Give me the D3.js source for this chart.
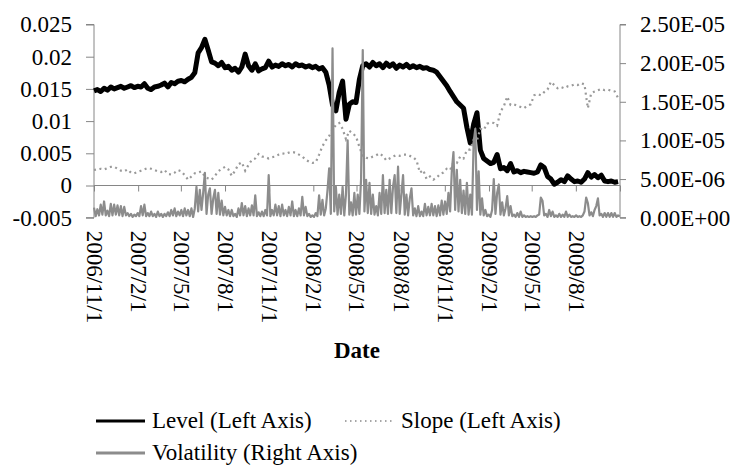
<!DOCTYPE html>
<html>
<head>
<meta charset="utf-8">
<script src="https://cdn.jsdelivr.net/npm/d3@7"></script>
<style>
  html, body { margin: 0; padding: 0; background: #fff; }
  svg { display: block; }
  text { font-family: "Liberation Serif", "Times New Roman", serif; fill: #000; }
</style>
</head>
<body>
<svg id="chart" width="734" height="467"></svg>
<script>
// Level and slope: weekly observations starting 2006-11-01 (values in units of 1e-3)
const levelVals = [
  14.7,14.9,14.6,15.1,14.8,15.3,15.0,15.2,15.4,15.1,15.3,15.5,15.2,15.4,15.3,15.8,15.1,14.9,15.3,15.4,
  15.6,15.9,15.3,16.0,15.8,16.2,16.3,16.1,16.5,16.8,17.5,20.6,21.4,22.7,21.0,19.2,19.0,18.6,19.1,18.3,
  18.5,17.9,18.2,17.6,18.4,20.4,18.6,17.9,18.9,17.8,18.1,18.3,19.3,18.4,18.7,18.5,18.9,18.6,18.8,18.4,
  18.9,18.6,18.7,18.4,18.6,18.3,18.5,18.1,18.3,17.6,15.6,12.5,11.6,14.5,16.2,10.3,12.6,13.0,12.9,16.5,
  18.6,18.9,18.4,19.1,18.6,18.9,18.3,19.0,18.5,18.9,18.2,18.7,18.4,18.8,18.3,18.6,18.3,18.5,18.2,18.3,
  18.0,17.9,17.6,16.9,16.2,15.5,14.6,13.8,13.0,12.5,12.0,9.0,6.6,9.5,11.3,5.5,4.2,3.8,3.4,3.6,
  4.8,2.6,2.8,2.3,3.4,2.1,2.3,2.0,2.2,2.1,2.0,1.9,2.1,3.2,2.8,1.4,1.0,0.2,0.5,0.9,
  0.6,1.5,1.0,0.6,0.7,0.5,1.0,2.0,1.3,1.7,1.2,1.6,0.7,0.6,0.7,0.5,0.6
];
const slopeVals = [
  2.4,2.5,2.6,2.5,2.7,2.9,2.9,2.6,2.3,2.2,2.5,2.0,1.9,2.1,2.3,2.5,2.7,2.6,2.4,2.2,
  2.1,2.4,1.8,1.7,2.0,2.4,2.2,1.6,0.9,1.4,1.9,2.0,2.2,1.4,1.1,0.9,1.5,2.2,2.6,2.9,
  2.5,1.5,2.3,3.3,3.6,2.3,3.2,4.0,4.2,4.9,4.5,4.4,4.2,4.4,4.5,4.8,5.0,4.9,5.1,5.2,
  5.1,4.8,4.5,4.0,3.7,3.5,3.6,4.8,6.1,7.0,7.7,8.6,9.4,9.7,8.8,7.2,8.5,8.1,7.6,6.0,
  4.6,4.3,4.2,4.5,4.7,5.0,4.6,3.9,4.2,4.5,4.7,4.6,4.8,4.8,4.6,4.4,3.9,2.0,2.4,1.0,
  1.4,0.9,1.2,1.8,2.0,2.6,2.4,3.6,3.5,4.5,4.2,5.5,5.6,7.1,7.0,8.8,8.6,9.6,9.8,9.7,
  9.3,11.5,12.3,13.8,12.5,12.6,12.4,12.2,12.0,12.4,12.6,14.0,14.2,14.0,14.5,14.9,16.1,15.6,15.1,15.3,
  15.1,15.4,15.5,15.7,15.6,15.9,15.7,12.0,14.3,14.6,14.8,15.0,14.8,14.9,14.7,14.6,13.6
];
// Volatility: twice-weekly observations starting 2006-11-01 (values in units of 1e-6)
const volVals = [
  1.3,0.2,1.1,0.3,1.7,0.4,2.1,0.3,0.9,0.2,1.8,0.3,1.7,0.4,1.6,0.3,1.5,0.2,1.4,0.3,
  0.6,0.2,0.5,0.1,0.4,0.2,0.6,0.2,1.5,0.3,1.7,0.2,0.6,0.2,0.8,0.2,0.5,0.1,0.8,0.2,
  0.5,0.1,0.5,0.2,0.7,0.2,1.0,0.3,1.2,0.2,0.8,0.3,1.0,0.2,1.2,0.3,1.0,0.2,1.2,0.1,
  1.2,4.0,0.8,3.6,1.0,3.2,5.8,0.5,3.0,3.8,0.5,2.5,3.6,0.5,3.2,0.4,2.2,0.3,1.4,0.3,
  1.0,0.2,1.0,0.2,0.5,0.1,1.2,0.3,1.9,0.3,1.5,0.2,1.2,0.3,1.6,0.3,2.9,0.2,0.7,0.2,
  0.8,0.2,1.0,0.3,5.5,0.2,1.0,0.3,1.7,0.3,1.5,0.2,1.7,0.3,1.0,0.2,1.4,0.3,2.1,0.2,
  1.0,0.2,1.2,0.3,2.7,0.3,1.4,0.2,0.5,0.1,0.3,0.1,0.6,0.2,2.9,0.4,2.3,0.3,1.2,3.5,
  6.4,0.5,21.9,0.8,4.0,0.4,3.0,0.5,4.0,0.3,3.0,10.0,0.4,2.0,0.3,3.2,0.4,3.0,0.5,5.0,
  21.7,0.8,4.9,0.6,4.5,0.5,3.0,0.4,1.5,0.3,3.2,0.5,5.5,0.6,3.6,0.5,4.9,0.6,4.0,5.5,
  0.6,6.6,0.5,3.0,5.5,0.4,3.0,0.3,2.5,3.8,0.3,1.2,0.2,1.5,0.2,0.8,0.2,1.8,0.3,1.4,
  0.3,1.8,0.3,1.5,0.2,1.6,0.3,2.2,0.4,2.1,0.5,3.2,0.8,6.0,8.5,1.0,6.2,0.8,4.9,0.6,
  3.5,0.5,4.5,0.4,3.0,0.4,9.7,11.5,1.0,6.0,0.4,2.5,0.3,1.0,0.2,0.4,0.1,1.0,5.0,0.5,
  3.2,4.3,0.4,2.0,0.3,1.2,2.8,0.3,1.5,0.2,0.4,0.1,0.6,0.1,0.8,0.1,0.3,0.1,0.2,0.1,
  0.2,0.1,0.2,0.1,0.3,0.4,2.6,2.2,0.3,0.5,0.1,1.0,0.2,0.8,0.1,0.3,0.1,0.5,0.1,0.4,
  0.1,0.8,0.1,0.4,0.1,0.2,0.1,0.3,0.1,0.2,0.1,0.3,0.8,2.6,1.9,0.3,0.7,0.2,1.0,1.5,
  2.5,0.3,0.5,0.1,0.6,0.1,0.6,0.1,0.6,0.1,0.6,0.1,0.3,0.2
];

const leftTicks = [-0.005, 0, 0.005, 0.01, 0.015, 0.02, 0.025];
const leftTickLabels = ["-0.005", "0", "0.005", "0.01", "0.015", "0.02", "0.025"];
const rightTicks = [0, 5e-6, 1e-5, 1.5e-5, 2e-5, 2.5e-5];
const rightTickLabels = ["0.00E+00", "5.00E-06", "1.00E-05", "1.50E-05", "2.00E-05", "2.50E-05"];
const dateTickLabels = ["2006/11/1", "2007/2/1", "2007/5/1", "2007/8/1", "2007/11/1", "2008/2/1",
                        "2008/5/1", "2008/8/1", "2008/11/1", "2009/2/1", "2009/5/1", "2009/8/1"];
const seriesNames = ["Level (Left Axis)", "Slope (Left Axis)", "Volatility (Right Axis)"];

const parseDate = d3.timeParse("%Y/%m/%d");
const start = parseDate("2006/11/1");
const end = parseDate("2009/11/1");

const levelData = levelVals.map((v, i) => ({ date: d3.timeDay.offset(start, 7 * i), value: v * 1e-3 }));
const slopeData = slopeVals.map((v, i) => ({ date: d3.timeDay.offset(start, 7 * i), value: v * 1e-3 }));
const volData = volVals.map((v, i) => ({ date: d3.timeHour.offset(start, 84 * i), value: v * 1e-6 }));

const svg = d3.select("#chart");
const plot = { left: 94, right: 620, top: 24.5, bottom: 217.7 };
const axisColor = "#868686";
const fontSize = 23;

const x = d3.scaleTime().domain([start, end]).range([plot.left, plot.right]);
const yL = d3.scaleLinear().domain([-0.005, 0.025]).range([plot.bottom, plot.top]);
const yR = d3.scaleLinear().domain([0, 2.5e-5]).range([plot.bottom, plot.top]);

// Left axis
const gL = svg.append("g").attr("transform", `translate(${plot.left},0)`)
  .call(d3.axisLeft(yL).tickValues(leftTicks).tickSize(8).tickPadding(14)
    .tickFormat((d, i) => leftTickLabels[i]));
// Right axis
const gR = svg.append("g").attr("transform", `translate(${plot.right},0)`)
  .call(d3.axisRight(yR).tickValues(rightTicks).tickSize(6).tickPadding(14)
    .tickFormat((d, i) => rightTickLabels[i]));
[gL, gR].forEach(g => {
  g.select(".domain").attr("stroke", axisColor).attr("d",
    g === gL ? `M-8,${plot.top}H0V${plot.bottom}H-8` : `M6,${plot.top}H0V${plot.bottom}H6`);
  g.selectAll(".tick line").attr("stroke", axisColor);
  g.selectAll("text").attr("font-size", fontSize).attr("fill", "#000");
});

// Horizontal date axis on the zero line
const dateTicks = dateTickLabels.map(parseDate).concat([end]);
const gX = svg.append("g").attr("transform", `translate(0,${yL(0)})`)
  .call(d3.axisBottom(x).tickValues(dateTicks).tickSize(6).tickFormat(""));
gX.select(".domain").attr("stroke", axisColor).attr("d", `M${plot.left},0H${plot.right}`);
gX.selectAll(".tick line").attr("stroke", axisColor);

// Rotated date labels under the plot
svg.append("g").selectAll("text").data(dateTickLabels).join("text")
  .attr("transform", d => `translate(${x(parseDate(d)) + 1},${plot.bottom + 13}) rotate(90)`)
  .attr("dy", "0.35em")
  .attr("font-size", fontSize)
  .text(d => d);

svg.append("text").attr("x", 357).attr("y", 358).attr("text-anchor", "middle")
  .attr("font-size", fontSize).attr("font-weight", "bold").text("Date");

// Series
const lineL = d3.line().x(d => x(d.date)).y(d => yL(d.value));
const lineR = d3.line().x(d => x(d.date)).y(d => yR(d.value));

svg.append("path").datum(levelData).attr("d", lineL)
  .attr("fill", "none").attr("stroke", "#000").attr("stroke-width", 5)
  .attr("stroke-linejoin", "round");
svg.append("path").datum(slopeData).attr("d", lineL)
  .attr("fill", "none").attr("stroke", "#999").attr("stroke-width", 2.2)
  .attr("stroke-dasharray", "2,3.5");
svg.append("path").datum(volData).attr("d", lineR)
  .attr("fill", "none").attr("stroke", "#8c8c8c").attr("stroke-width", 2.2)
  .attr("stroke-linejoin", "round");

// Legend
const legendItems = [
  { name: seriesNames[0], x: 96, y: 421, stroke: "#000", width: 3, dash: null },
  { name: seriesNames[1], x: 345, y: 421, stroke: "#a6a6a6", width: 2, dash: "1.5,3.5" },
  { name: seriesNames[2], x: 96, y: 453, stroke: "#8c8c8c", width: 3, dash: null }
];
const lg = svg.append("g").selectAll("g").data(legendItems).join("g")
  .attr("transform", d => `translate(${d.x},${d.y})`);
lg.append("line").attr("x1", 0).attr("x2", 49).attr("y1", 0).attr("y2", 0)
  .attr("stroke", d => d.stroke).attr("stroke-width", d => d.width)
  .attr("stroke-dasharray", d => d.dash);
lg.append("text").attr("x", 56).attr("y", 0).attr("dy", "0.32em")
  .attr("font-size", fontSize).text(d => d.name);
</script>
</body>
</html>
